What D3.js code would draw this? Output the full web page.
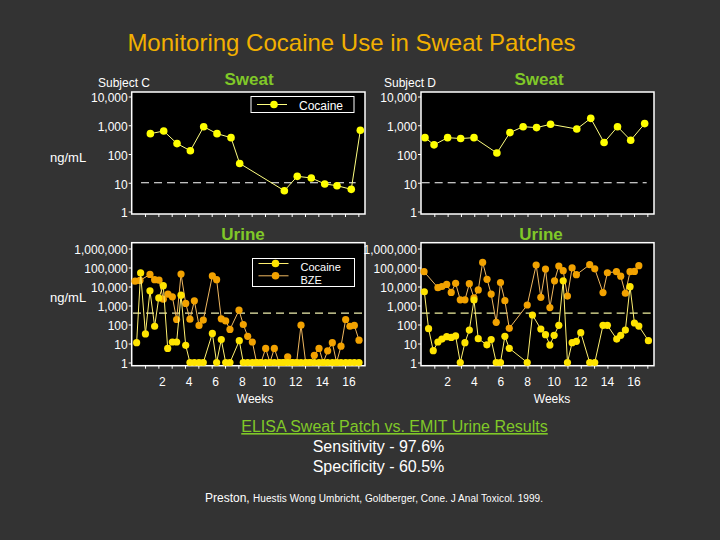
<!DOCTYPE html>
<html><head><meta charset="utf-8">
<script src="https://cdn.jsdelivr.net/npm/d3@7"></script>
<style>
html,body{margin:0;padding:0;background:#333333;}
svg{display:block;}
text{font-family:"Liberation Sans",Arial,sans-serif;}
</style>
</head><body>
<svg id="chart" width="720" height="540"></svg>
<script>
// ---------------- DATA ----------------
// Sweat patch cocaine (ng/mL), by week
const sweatWeeksC   = [1.4, 2.4, 3.4, 4.4, 5.4, 6.4, 7.45, 8.1, 11.45, 12.42, 13.47, 14.48, 15.4, 16.47, 17.15];
const sweatCocaineC = [510, 630, 230, 130, 890, 510, 370, 47, 5.3, 16.7, 14.7, 9.1, 7.9, 5.9, 670];
const sweatWeeksD   = [0.3, 0.98, 2.0, 2.98, 3.98, 5.7, 6.68, 7.67, 8.68, 9.73, 11.7, 12.75, 13.75, 14.76, 15.75, 16.8];
const sweatCocaineD = [370, 208, 370, 345, 370, 108, 555, 890, 830, 1080, 740, 1740, 250, 890, 300, 1140];

// Urine (ng/mL) Subject C
const urineCocWeeksC = [0.37,0.67,1.03,1.37,1.72,2.03,2.37,2.7,3.05,3.37,3.7,4.05,4.37,4.7,5.05,5.37,6.05,6.37,6.72,7.05,7.37,8.07,8.37,8.7,
  9.05,9.37,9.7,10.05,10.37,10.7,11.05,11.37,11.7,12.05,12.37,12.7,13.05,13.37,13.7,14.05,14.37,14.7,15.05,15.37,15.7,16.05,16.37,16.7,17.05];
const urineCocC = [11,52000,32,5900,81,2500,11000,5.5,12,12,3500,8,1,1,1,1,34,1,16,1,1,14,1,1,
  1,1,1,1,1,1,1,1,1,1,1,1,1,1,1,1,1,1,1,1,1,1,1,1,1];
const urineBzeWeeksC = [0.25,0.62,1.37,1.72,2.05,2.37,2.72,3.05,3.37,3.7,4.05,4.37,4.7,5.05,5.37,6.05,6.37,6.72,7.05,7.37,8.05,8.37,8.7,
  9.05,9.37,9.7,10.05,10.37,10.7,11.05,11.37,11.7,12.05,12.37,12.7,13.05,13.37,13.7,14.05,14.37,14.7,15.05,15.37,15.7,16.05,16.37,16.7,17.05];
const urineBzeC = [19000,21000,43000,23000,21500,2150,4000,2850,183,45000,1280,190,1770,89,170,36000,23000,200,155,55,565,100,24,
  12,1,1,5.5,1,5.5,1,1,2,1,1,92,1,1,2.4,5.5,1,4.1,11,1,7.2,183,81,89,15];

// Urine (ng/mL) Subject D
const urineCocWeeksD = [0.25,0.57,0.92,1.27,1.57,1.93,2.27,2.6,2.95,3.3,3.63,3.98,4.3,4.95,5.27,5.65,5.97,6.3,6.63,7.98,
  8.37,9.0,9.35,9.68,10.0,10.35,10.68,11.0,11.35,11.67,12.0,12.67,13.05,13.67,14.0,14.7,15.0,15.35,15.7,16.03,16.36,17.08];
const urineCocD = [5300,60,4.2,12,17,23,21,25,1,11,51,1950,18,8.5,16,1,1,24,5.6,1,
  316,58,29,8.3,27,90,20000,1,11,13,37,1,1,90,90,17,27,51,9800,120,83,14];
const urineBzeWeeksD = [0.23,1.27,1.57,1.93,2.27,2.6,2.95,3.3,3.63,3.98,4.3,4.63,4.96,5.27,5.65,5.97,6.3,6.63,7.98,
  8.65,9.0,9.35,9.68,10.03,10.35,10.68,11.0,11.35,11.67,12.67,13.05,13.67,14.0,14.68,15.0,15.35,15.7,16.03,16.36];
const urineBzeD = [60000,8700,10000,12800,4900,14700,2000,2000,14000,2500,6600,186000,24000,4000,130,16000,1800,63,1060,
  135000,2700,83000,780,20000,120000,68000,3150,95000,42000,140000,85000,4800,53000,60000,35000,4400,60000,62000,125000];

// Axes / ticks
const sweatTicks = [1, 10, 100, 1000, 10000];
const urineTicks = [1, 10, 100, 1000, 10000, 100000, 1000000];
const weekTicks  = [1,2,3,4,5,6,7,8,9,10,11,12,13,14,15,16,17];
const weekLabels = [2,4,6,8,10,12,14,16];
const sweatCutoff = 10;
const urineCutoff = 400;

// Texts
const titleText = "Monitoring Cocaine Use in Sweat Patches";
const footTitle = "ELISA Sweat Patch vs. EMIT Urine Results";
const footLines = ["Sensitivity - 97.6%", "Specificity - 60.5%"];

// ---------------- STYLE ----------------
const C = {
  title:"#F2B000", green:"#80C828", text:"#FFFFFF",
  sweat:"#FFFF00", sweatLine:"#FFFF80",
  coc:"#FFE400", cocLine:"#FFF070",
  bze:"#F2A200", bzeLine:"#F0B860"
};

const svg = d3.select("#chart");
svg.append("rect").attr("width",720).attr("height",540).attr("fill","#333333");

svg.append("text").attr("x",351.5).attr("y",51).attr("text-anchor","middle")
  .attr("font-size",24).attr("fill",C.title).text(titleText);

function panel(cfg){
  const g = svg.append("g");
  const x = d3.scaleLinear().domain([0,17.5]).range([cfg.x0,cfg.x1]);
  const y = d3.scaleLog().domain(cfg.domain).range(cfg.yr);
  g.append("rect").attr("x",cfg.x0).attr("y",cfg.y0).attr("width",cfg.x1-cfg.x0).attr("height",cfg.y1-cfg.y0)
    .attr("fill","#000").attr("stroke","#fff").attr("stroke-width",1.5);
  const ya = g.append("g").attr("transform",`translate(${cfg.x0},0)`)
    .call(d3.axisLeft(y).tickValues(cfg.ticks).tickFormat(d3.format(",")).tickSize(3).tickPadding(1));
  ya.select(".domain").remove();
  ya.selectAll("line").attr("stroke","#fff");
  ya.selectAll("text").attr("fill",C.text).attr("font-size",12).attr("font-family","'Liberation Sans',Arial,sans-serif").attr("dy","0.45em");
  const xa = g.append("g").attr("transform",`translate(0,${cfg.y1})`)
    .call(d3.axisBottom(x).tickValues(weekTicks).tickFormat("").tickSize(3));
  xa.select(".domain").remove();
  xa.selectAll("line").attr("stroke","#fff");
  if(cfg.labels){
    g.selectAll(".wl").data(weekLabels).enter().append("text")
      .attr("x",d=>x(d)+cfg.labelDx).attr("y",cfg.y1+20).attr("text-anchor","middle")
      .attr("font-size",12).attr("fill",C.text).text(d=>d);
    g.append("text").attr("x",cfg.weeksX).attr("y",cfg.y1+37).attr("text-anchor","middle")
      .attr("font-size",12).attr("fill",C.text).text("Weeks");
  }
  g.append("line").attr("x1",x(cfg.cut[0])).attr("x2",x(cfg.cut[1]))
    .attr("y1",y(cfg.cutoff)).attr("y2",y(cfg.cutoff))
    .attr("stroke",cfg.cutColor).attr("stroke-width",1.2).attr("stroke-dasharray","8,5");
  cfg.series.forEach(s=>{
    const pts = s.w.map((w,i)=>[w,s.v[i]]);
    g.append("path").datum(pts).attr("fill","none").attr("stroke",s.line).attr("stroke-width",1)
      .attr("d",d3.line().x(d=>x(d[0])).y(d=>y(d[1])));
    g.selectAll(null).data(pts).enter().append("circle")
      .attr("cx",d=>x(d[0])).attr("cy",d=>y(d[1])).attr("r",s.r).attr("fill",s.color);
  });
  return {x,y,g};
}

panel({x0:131.7,x1:365,y0:92,y1:214,domain:[1,10000],yr:[211.5,96.5],ticks:sweatTicks,
  cut:[0.7,16.8],cutoff:sweatCutoff,cutColor:"#fff",labels:false,
  series:[{w:sweatWeeksC,v:sweatCocaineC,color:C.sweat,line:C.sweatLine,r:3.8}]});
panel({x0:421,x1:654,y0:92,y1:214,domain:[1,10000],yr:[211.5,96.5],ticks:sweatTicks,
  cut:[0.05,16.95],cutoff:sweatCutoff,cutColor:"#fff",labels:false,
  series:[{w:sweatWeeksD,v:sweatCocaineD,color:C.sweat,line:C.sweatLine,r:3.8}]});
panel({x0:131.7,x1:365,y0:242.7,y1:365.7,domain:[1,1000000],yr:[362.5,248.5],ticks:urineTicks,
  cut:[0.1,17.5],cutoff:urineCutoff,cutColor:"#F0F0B0",labels:true,labelDx:4,weeksX:255,
  series:[{w:urineBzeWeeksC,v:urineBzeC,color:C.bze,line:C.bzeLine,r:3.6},
          {w:urineCocWeeksC,v:urineCocC,color:C.coc,line:C.cocLine,r:3.6}]});
panel({x0:421,x1:654,y0:242.7,y1:365.7,domain:[1,1000000],yr:[362.5,248.5],ticks:urineTicks,
  cut:[0.05,17.4],cutoff:urineCutoff,cutColor:"#F0F0A0",labels:true,labelDx:0,weeksX:552,
  series:[{w:urineBzeWeeksD,v:urineBzeD,color:C.bze,line:C.bzeLine,r:3.6},
          {w:urineCocWeeksD,v:urineCocD,color:C.coc,line:C.cocLine,r:3.6}]});

[["Sweat",249,85],["Sweat",539,85],["Urine",243,240],["Urine",541,240]].forEach(t=>{
  svg.append("text").attr("x",t[1]).attr("y",t[2]).attr("text-anchor","middle")
    .attr("font-size",17).attr("font-weight","bold").attr("fill",C.green).text(t[0]);
});
svg.append("text").attr("x",98).attr("y",87).attr("font-size",12).attr("fill",C.text).text("Subject C");
svg.append("text").attr("x",384).attr("y",87).attr("font-size",12).attr("fill",C.text).text("Subject D");
svg.append("text").attr("x",50).attr("y",162).attr("font-size",13).attr("fill",C.text).text("ng/mL");
svg.append("text").attr("x",50).attr("y",302).attr("font-size",13).attr("fill",C.text).text("ng/mL");

function legend(x0,y0,w,h,items){
  svg.append("rect").attr("x",x0).attr("y",y0).attr("width",w).attr("height",h)
    .attr("fill","#000").attr("stroke","#fff").attr("stroke-width",1);
  items.forEach(it=>{
    svg.append("line").attr("x1",x0+6).attr("x2",x0+36).attr("y1",it.y).attr("y2",it.y)
      .attr("stroke",it.line).attr("stroke-width",1);
    svg.append("circle").attr("cx",x0+23).attr("cy",it.y).attr("r",3.8).attr("fill",it.color);
    svg.append("text").attr("x",x0+48).attr("y",it.y+it.dy).attr("font-size",it.fs).attr("fill",C.text).text(it.label);
  });
}
legend(251,96.5,103,16,[{y:104.5,line:C.sweatLine,color:C.sweat,label:"Cocaine",dy:5.5,fs:12}]);
legend(252.5,258.5,102,28,[{y:263.5,line:C.cocLine,color:C.coc,label:"Cocaine",dy:7.5,fs:11},
                           {y:275.8,line:C.bzeLine,color:C.bze,label:"BZE",dy:8.2,fs:11}]);

svg.append("text").attr("x",394.5).attr("y",432).attr("text-anchor","middle").attr("font-size",16)
  .attr("fill",C.green).attr("text-decoration","underline").text(footTitle);
footLines.forEach((t,i)=>{
  svg.append("text").attr("x",378.5).attr("y",452+i*20).attr("text-anchor","middle").attr("font-size",16)
    .attr("fill",C.text).text(t);
});
const cite = svg.append("text").attr("x",205).attr("y",502).attr("fill",C.text);
cite.append("tspan").attr("font-size",12).text("Preston, ");
cite.append("tspan").attr("font-size",10).attr("textLength",290).attr("lengthAdjust","spacing")
  .text("Huestis Wong Umbricht, Goldberger, Cone. J Anal Toxicol.  1999.");
</script>
</body></html>
